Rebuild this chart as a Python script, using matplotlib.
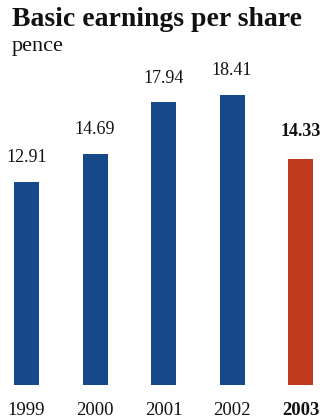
import matplotlib.pyplot as plt

years = ['1999', '2000', '2001', '2002', '2003']
eps = [12.91, 14.69, 17.94, 18.41, 14.33]
blue = '#17498a'
red = '#c0391b'

plt.rcParams['font.family'] = ['Liberation Serif', 'DejaVu Serif']

W, H = 331, 420
fig = plt.figure(figsize=(W / 100, H / 100), dpi=100)

# axes placed in pixels: baseline at 385 px, top at 70 px
ax = fig.add_axes([0, 35 / H, 1, 315 / H])
ax.set_xlim(-0.387, 4.445)
ax.set_ylim(0, 20)
ax.axis('off')

colors = [blue] * 4 + [red]
x = range(len(years))
ax.bar(x, eps, width=0.365, color=colors)

for i, (yr, v) in enumerate(zip(years, eps)):
    last = i == len(years) - 1
    weight = 'bold' if last else 'normal'
    ax.annotate('{:.2f}'.format(v), (i, v), xytext=(0, 20 if last else 17.5),
                textcoords='offset points', ha='center', va='center',
                fontsize=13, fontweight=weight, color='#111111')
    ax.annotate(yr, (i, 0), xytext=(0, -18.5), textcoords='offset points',
                ha='center', va='center', fontsize=13.5, fontweight=weight,
                color='#111111')

fig.text(12 / W, 1 - 20 / H, 'Basic earnings per share', ha='left', va='center',
         fontsize=20, fontweight='bold', color='#111111')
fig.text(12 / W, 1 - 47 / H, 'pence', ha='left', va='center',
         fontsize=16, color='#111111')

fig.savefig('out.png', dpi=100)
